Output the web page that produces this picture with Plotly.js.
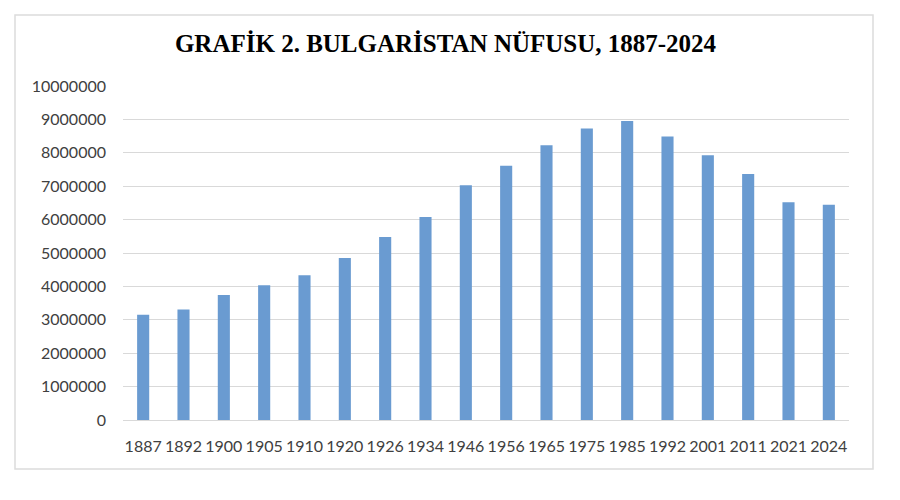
<!DOCTYPE html>
<html>
<head>
<meta charset="utf-8">
<script src="https://cdn.plot.ly/plotly-3.0.1.min.js"></script>
<style>
  html, body { margin: 0; padding: 0; background: #ffffff; }
  #chart { width: 900px; height: 500px; }
</style>
</head>
<body>
<div id="chart"></div>
<script>
const years = ["1887","1892","1900","1905","1910","1920","1926","1934","1946","1956","1965","1975","1985","1992","2001","2011","2021","2024"];
const population = [3154375, 3310713, 3744283, 4035575, 4337513, 4846971, 5478741, 6077939, 7029349, 7613709, 8227866, 8727771, 8948649, 8487317, 7928901, 7364570, 6519789, 6445481];
const yTicks = [0,1000000,2000000,3000000,4000000,5000000,6000000,7000000,8000000,9000000,10000000];
const yTickLabels = ["0","1000000","2000000","3000000","4000000","5000000","6000000","7000000","8000000","9000000","10000000"];
const titleText = "GRAFİK 2. BULGARİSTAN NÜFUSU, 1887-2024";

const trace = {
  type: "bar",
  x: years,
  y: population,
  marker: { color: "#6a9bd1", line: { width: 0 } },
  hoverinfo: "x+y"
};

const layout = {
  width: 900,
  height: 500,
  margin: { l: 123, r: 51, t: 86, b: 80, pad: 0 },
  paper_bgcolor: "#ffffff",
  plot_bgcolor: "#ffffff",
  bargap: 0.7,
  showlegend: false,
  font: { family: "Lato, 'Open Sans', sans-serif", size: 16, color: "#404040" },
  title: {
    text: "<b>" + titleText + "</b>",
    font: { family: "'Liberation Serif', 'Times New Roman', serif", size: 25, color: "#000000" },
    x: 445.5 / 900, xref: "container", xanchor: "center",
    y: 46, yref: "container", yanchor: "middle"
  },
  xaxis: {
    type: "category",
    showgrid: false,
    showline: true,
    linecolor: "#d9d9d9",
    linewidth: 1,
    ticks: "",
    ticklabelstandoff: 12,
    tickfont: { family: "Lato, 'Open Sans', sans-serif", size: 16, color: "#404040" },
    fixedrange: true
  },
  yaxis: {
    range: [0, 10000000],
    tickvals: yTicks,
    ticktext: yTickLabels,
    showgrid: true,
    gridcolor: "#d9d9d9",
    gridwidth: 1,
    zeroline: false,
    showline: false,
    ticks: "",
    ticklabelstandoff: 16,
    tickfont: { family: "Lato, 'Open Sans', sans-serif", size: 16, color: "#404040" },
    fixedrange: true
  },
  shapes: [{
    type: "rect",
    xref: "paper", yref: "paper",
    x0: (15 - 123) / 726, x1: (873 - 123) / 726,
    y0: (420 - 469) / 334, y1: (420 - 15) / 334,
    line: { color: "#dcdcdc", width: 1.5 },
    fillcolor: "rgba(0,0,0,0)",
    layer: "below"
  }]
};

Plotly.newPlot("chart", [trace], layout, { displayModeBar: false, staticPlot: true });
</script>
</body>
</html>
